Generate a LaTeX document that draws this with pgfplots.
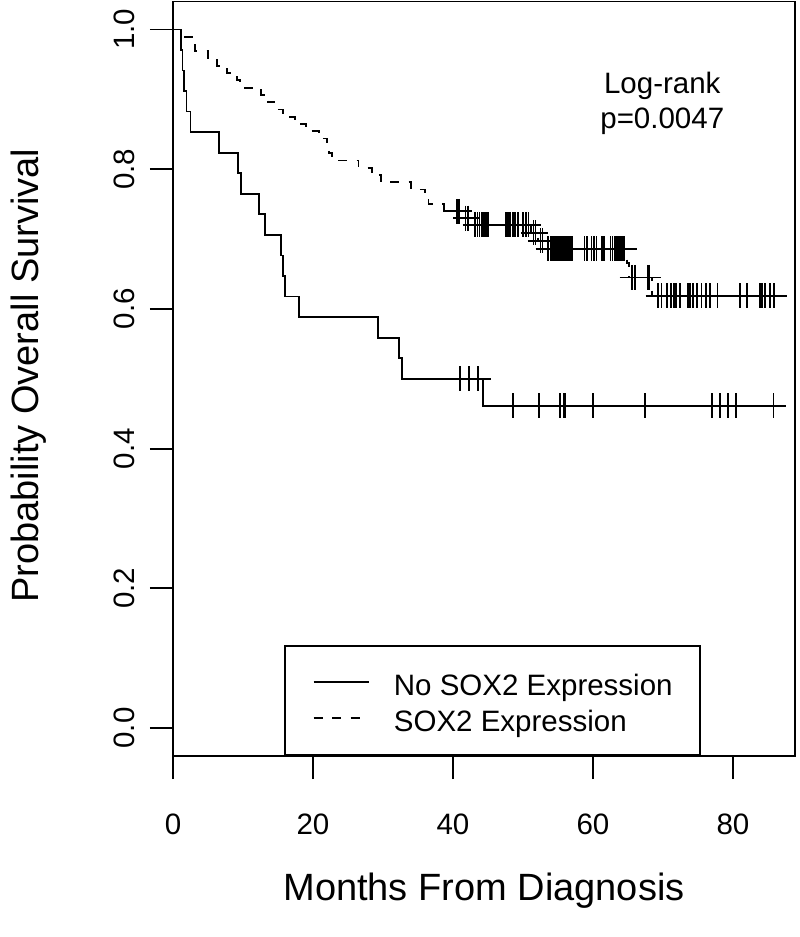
\documentclass[border=0pt]{standalone}
\usepackage{pgfplots}
\pgfplotsset{compat=1.18}
\usepackage{fontspec}
\setmainfont{Liberation Sans}
\newcommand\tickfont{\fontsize{29.5}{35}\selectfont}
\newcommand\labfont{\fontsize{38}{45}\selectfont}
\begin{document}
\begin{tikzpicture}
\useasboundingbox (-173pt,-181pt) rectangle (627pt,756pt);
\begin{axis}[
  at={(0pt,0pt)}, anchor=south west,
  scale only axis, width=622pt, height=754.5pt,
  xmin=0, xmax=88.86, ymin=-0.04, ymax=1.04,
  axis line style={line width=1.8pt, black},
  xtick={0,20,40,60,80}, ytick={0,0.2,0.4,0.6,0.8,1.0},
  xtick pos=bottom, ytick pos=left,
  tick align=outside, major tick length=23pt,
  tick style={line width=1.8pt, black},
  /pgf/number format/assume math mode=true,
  ticklabel style={font=\tickfont},
  yticklabel style={/pgf/number format/fixed, /pgf/number format/precision=1, /pgf/number format/fixed zerofill, rotate=90, anchor=base, inner sep=0pt},
  xticklabel style={anchor=base, inner sep=0pt},
  yticklabel shift=15pt,
  xticklabel shift=55pt,
  xlabel={Months From Diagnosis},
  ylabel={Probability Overall Survival},
  xlabel style={font=\labfont, at={(axis description cs:0.5,-0.191)}, anchor=base, inner sep=0pt},
  ylabel style={font=\labfont, at={(axis description cs:-0.217,0.504)}, anchor=base, inner sep=0pt},
  legend style={at={(axis cs:15.9,-0.04)}, anchor=south west, draw=black, line width=1.8pt,
    inner xsep=27.5pt, inner ysep=23pt, font=\tickfont, row sep=9pt,
    nodes={inner sep=0pt, text height=26pt, text depth=1pt}, cells={anchor=west}},
  legend image code/.code={\draw[#1, line width=1.8pt] (0pt,1pt) -- (55pt,1pt); \path[draw=none] (0pt,0pt) -- (80.3pt,0pt);},
  clip=false,
]
% No SOX2 expression
\addplot[const plot, black, line width=1.8pt, no marks] coordinates {
(0,1) (1.14,0.9706) (1.36,0.9412) (1.57,0.9118) (1.93,0.8824) (2.5,0.8529)
(6.6,0.8235) (9.3,0.7941) (9.7,0.7647) (12.3,0.7353) (13.1,0.7059)
(15.4,0.6765) (15.7,0.6471) (16.0,0.6176) (18.0,0.5882) (29.3,0.5588)
(32.3,0.5294) (32.7,0.5) (44.3,0.4615) (85.8,0.4615)};
\addlegendentry{No SOX2 Expression}
% SOX2 expression
\addplot[const plot, black, line width=1.8pt, dash pattern=on 9pt off 9.5pt, no marks] coordinates {
(0,1) (1.3,0.98958) (2.8,0.97917) (3.2,0.96875) (5.0,0.95833) (6.3,0.94792)
(7.7,0.9375) (9.2,0.92708) (9.6,0.91667) (12.6,0.90625) (13.6,0.89583)
(14.5,0.88542) (15.7,0.875) (17.4,0.86458) (19.0,0.85417) (20.9,0.84375)
(22.0,0.83333) (22.3,0.82292) (22.7,0.8125) (26.5,0.80208) (28.4,0.79167)
(29.7,0.78125) (34.0,0.77083) (36.0,0.76042) (36.5,0.75) (38.7,0.73958)
(41.3,0.7300) (43.0,0.7205) (51.2,0.7090) (52.2,0.6975) (53.2,0.6860)
(64.9,0.6660) (65.2,0.6450) (68.4,0.6190) (85.9,0.6190)};
\addlegendentry{SOX2 Expression}
% censoring marks
\addplot[forget plot, only marks, mark=+, mark size=12.5pt, black, mark options={solid, line width=1.8pt}] coordinates {
(41.0,0.5) (42.3,0.5) (43.5,0.5) (43.6,0.5)
(48.6,0.4615) (52.3,0.4615) (55.3,0.4615) (55.8,0.4615) (56.0,0.4615) (60.0,0.4615)
(67.4,0.4615) (77.0,0.4615) (78.1,0.4615) (79.3,0.4615) (80.4,0.4615) (85.8,0.4615)};
\addplot[forget plot, only marks, mark=+, mark size=12.5pt, black, mark options={solid, line width=1.8pt}] coordinates {
(40.6,0.73958) (40.9,0.73958)
(41.8,0.7300) (42.1,0.7300)
(43.2,0.7205) (43.5,0.7205) (43.8,0.7205) (44.1,0.7205) (44.4,0.7205) (44.7,0.7205) (45.0,0.7205)
(47.6,0.7205) (47.9,0.7205) (48.2,0.7205) (48.6,0.7205) (48.9,0.7205) (49.3,0.7205)
(50.0,0.7205) (50.4,0.7205) (50.8,0.7205)
(51.5,0.7090) (51.8,0.7090) (52.5,0.6975) (52.8,0.6975)
(53.6,0.6860) (54.0,0.6860) (54.25,0.6860) (54.5,0.6860) (54.75,0.6860) (55.0,0.6860)
(55.25,0.6860) (55.5,0.6860) (55.75,0.6860) (56.0,0.6860) (56.25,0.6860) (56.5,0.6860)
(56.75,0.6860) (57.0,0.6860) (58.8,0.6860) (59.1,0.6860) (59.8,0.6860) (60.1,0.6860)
(60.5,0.6860) (61.3,0.6860) (61.6,0.6860) (62.5,0.6860) (62.8,0.6860) (63.1,0.6860)
(63.4,0.6860) (63.7,0.6860) (64.0,0.6860) (64.3,0.6860) (64.5,0.6860)
(65.6,0.6450) (66.0,0.6450) (67.8,0.6450) (68.0,0.6450)
(69.3,0.6190) (69.8,0.6190) (70.6,0.6190) (71.2,0.6190) (71.6,0.6190) (71.9,0.6190)
(72.4,0.6190) (73.6,0.6190) (73.9,0.6190) (74.3,0.6190) (74.9,0.6190) (75.5,0.6190)
(76.1,0.6190) (76.7,0.6190) (77.8,0.6190) (81.0,0.6190) (82.0,0.6190) (83.9,0.6190)
(84.2,0.6190) (84.6,0.6190) (85.3,0.6190) (85.9,0.6190)};
\node[font=\tickfont, anchor=base] at (axis cs:69.9,0.9084) {Log-rank};
\node[font=\tickfont, anchor=base] at (axis cs:69.9,0.8584) {p=0.0047};
\end{axis}
\end{tikzpicture}
\end{document}
